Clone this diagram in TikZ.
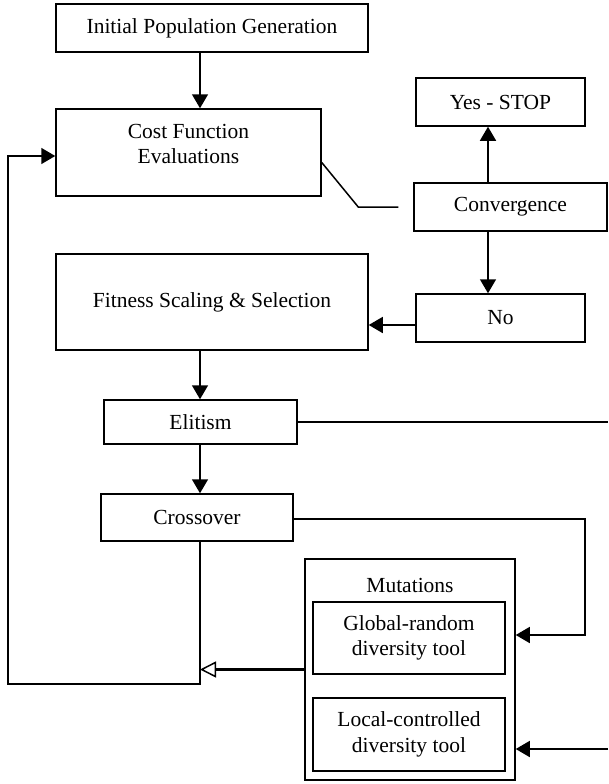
\documentclass[tikz,border=0pt]{standalone}
\usepackage{fontspec}
\setmainfont{Liberation Serif}
\usetikzlibrary{arrows.meta}
\tikzset{
  box/.style={draw, line width=1.5pt, inner sep=0pt, align=center},
  arr/.style={line width=1.5pt, -{Triangle[length=14pt,width=16pt]}},
  openarr/.style={line width=2.2pt, -{Triangle[open,length=16pt,width=16pt,line width=1.5pt]}},
  wire/.style={line width=1.5pt}
}
\begin{document}
\begin{tikzpicture}[x=1pt,y=-1pt,font=\fontsize{21.5}{25.5}\selectfont]
  \useasboundingbox (0,0) rectangle (608,784);
  \node[box, minimum width=312pt, minimum height=48pt] (init) at (212,28) {Initial Population Generation};
  \node[box, minimum width=265pt, minimum height=87pt, text depth=17pt] (cost) at (188.5,152.5) {Cost Function\\Evaluations};
  \node[box, minimum width=169pt, minimum height=48pt] (stop) at (500.5,102) {Yes - STOP};
  \node[box, minimum width=193pt, minimum height=48pt] (conv) at (510.5,207) {Convergence};
  \node[box, minimum width=312pt, minimum height=96pt] (fit) at (212,302) {Fitness Scaling \& Selection};
  \node[box, minimum width=169pt, minimum height=48pt] (no) at (500.5,318) {No};
  \node[box, minimum width=193pt, minimum height=44pt] (elit) at (200.5,422) {Elitism};
  \node[box, minimum width=192pt, minimum height=47pt] (cross) at (197,517.5) {Crossover};
  \node[box, minimum width=210pt, minimum height=221pt] (mut) at (410,669.5) {};
  \node (mutlabel) at (410,585) {Mutations};
  \node[box, minimum width=192pt, minimum height=72pt] (glob) at (409,638) {Global-random\\diversity tool};
  \node[box, minimum width=192pt, minimum height=73pt] (local) at (409,734.5) {Local-controlled\\diversity tool};

  \coordinate (axis) at (200,0);
  \coordinate (cx) at (488,0);
  \coordinate (right) at (608,0);
  \coordinate (gin) at (585,635);
  \coordinate (lin) at (608,749);
  \coordinate (lb) at (8,684);
  \coordinate (lt) at (8,156);

  \draw[arr] (axis |- init.south) -- (axis |- cost.north);
  \draw[arr] (cx |- conv.north) -- (cx |- stop.south);
  \draw[arr] (cx |- conv.south) -- (cx |- no.north);
  \draw[arr] ([yshift=-7pt]no.west) -- ([yshift=-7pt]no.west -| fit.east);
  \draw[wire] ([yshift=-10pt]cost.east) -- ([xshift=-55pt]conv.west) -- ([xshift=-15pt]conv.west);
  \draw[arr] (axis |- fit.south) -- (axis |- elit.north);
  \draw[arr] (axis |- elit.south) -- (axis |- cross.north);
  \draw[wire] (elit.east) -- (elit.east -| right);
  \draw[arr] ([yshift=-1.5pt]cross.east) -| (gin) -- (gin -| mut.east);
  \draw[arr] (lin) -- (lin -| mut.east);
  \draw[openarr] (mut.west) -- (mut.west -| axis);
  \draw[arr] (axis |- cross.south) -- (axis |- lb) -- (lb) -- (lt) -- (lt -| cost.west);
\end{tikzpicture}
\end{document}
